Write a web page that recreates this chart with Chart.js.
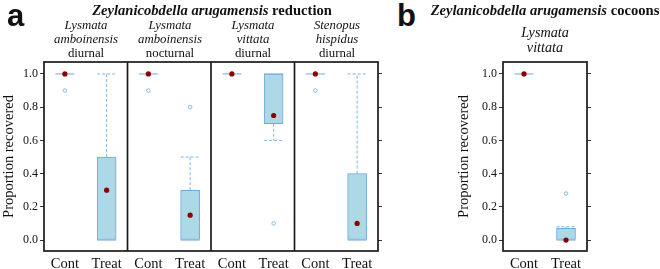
<!DOCTYPE html>
<html>
<head>
<meta charset="utf-8">
<script src="https://cdn.jsdelivr.net/npm/chart.js@4.4.1/dist/chart.umd.min.js"></script>
<style>
  body { margin: 0; background: #fff; }
  #wrap { position: relative; width: 660px; height: 269px; overflow: hidden; font-family: "Liberation Serif", serif; color: #111; }
  canvas { position: absolute; top: 0; }
  .tag { position: absolute; font-family: "Liberation Sans", Arial, sans-serif; font-weight: bold; font-size: 31px; line-height: 31px; }
  .title { position: absolute; font-weight: bold; font-size: 14.6px; line-height: 17px; text-align: center; white-space: nowrap; }
  .sub { position: absolute; font-size: 12.8px; line-height: 14px; text-align: center; width: 84px; }
  .sub i { display: block; }
  .subb { font-size: 14.2px; line-height: 15px; }
</style>
</head>
<body>
<div id="wrap">
  <canvas id="chartA" width="392" height="269" style="left:0"></canvas>
  <canvas id="chartB" width="150" height="269" style="left:455px"></canvas>

  <div class="tag" style="left:7px;top:0px">a</div>
  <div class="tag" style="left:397px;top:0px">b</div>
  <div class="title" style="left:62px;width:300px;top:2px"><i>Zeylanicobdella arugamensis</i> reduction</div>
  <div class="title" style="left:395px;width:300px;top:2px"><i>Zeylanicobdella arugamensis</i> cocoons</div>

  <div class="sub" style="left:44px;top:18px"><i>Lysmata</i><i>amboinensis</i>diurnal</div>
  <div class="sub" style="left:128px;top:18px"><i>Lysmata</i><i>amboinensis</i>nocturnal</div>
  <div class="sub" style="left:211px;top:18px"><i>Lysmata</i><i>vittata</i>diurnal</div>
  <div class="sub" style="left:295px;top:18px"><i>Stenopus</i><i>hispidus</i>diurnal</div>
  <div class="sub subb" style="left:503px;top:25px"><i>Lysmata</i><i>vittata</i></div>
</div>

<script>
// panel a: four trials, Cont / Treat each
const labelsA = ["Cont", "Treat", "Cont", "Treat", "Cont", "Treat", "Cont", "Treat"];
const q1A = [1, 0, 1, 0, 1, 0.7, 1, 0];
const q3A = [1, 0.5, 1, 0.3, 1, 1.0, 1, 0.4];
const medianA = [1, 0, 1, 0, 1, 1.0, 1, 0];
const whiskLoA = [1, 0, 1, 0, 1, 0.6, 1, 0];
const whiskHiA = [1, 1.0, 1, 0.5, 1, 1.0, 1, 1.0];
const meanA = [1, 0.3, 1, 0.15, 1, 0.75, 1, 0.1];
const outlierA = [0.9, null, 0.9, 0.8, null, 0.1, 0.9, null];

// panel b: cocoons
const labelsB = ["Cont", "Treat"];
const q1B = [1, 0];
const q3B = [1, 0.07];
const medianB = [1, 0];
const whiskLoB = [1, 0];
const whiskHiB = [1, 0.08];
const meanB = [1, 0];
const outlierB = [null, 0.28];

const yTicks = [0, 0.2, 0.4, 0.6, 0.8, 1.0];

const boxFill = "#add8e6";
const boxLine = "#6fa8dc";
const whiskColor = "#7fb3e6";
const BOXW = 19;

// whiskers, caps, medians and frame drawn from the scales
const boxExtras = {
  id: "boxExtras",
  beforeDatasetsDraw(chart, args, opts) {
    const ctx = chart.ctx;
    const x = chart.scales.x, y = chart.scales.y;
    ctx.save();
    ctx.lineWidth = 1;
    for (let i = 0; i < opts.q1.length; i++) {
      const cx = x.getPixelForValue(i);
      ctx.strokeStyle = whiskColor;
      ctx.setLineDash([3, 2]);
      const ends = [[opts.q3[i], opts.hi[i]], [opts.q1[i], opts.lo[i]]];
      ends.forEach(([from, to]) => {
        if (from === to) return;
        ctx.beginPath();
        ctx.moveTo(cx, y.getPixelForValue(from));
        ctx.lineTo(cx, y.getPixelForValue(to));
        ctx.moveTo(cx - BOXW / 2, y.getPixelForValue(to));
        ctx.lineTo(cx + BOXW / 2, y.getPixelForValue(to));
        ctx.stroke();
      });
      ctx.setLineDash([]);
      ctx.strokeStyle = boxLine;
      ctx.beginPath();
      ctx.moveTo(cx - BOXW / 2, y.getPixelForValue(opts.med[i]));
      ctx.lineTo(cx + BOXW / 2, y.getPixelForValue(opts.med[i]));
      ctx.stroke();
    }
    ctx.restore();
  },
  afterDraw(chart, args, opts) {
    const ctx = chart.ctx;
    const a = chart.chartArea;
    const x = chart.scales.x;
    ctx.save();
    ctx.strokeStyle = "#1a1a1a";
    ctx.lineWidth = 1.7;
    ctx.strokeRect(a.left, a.top, a.right - a.left, a.bottom - a.top);
    (opts.dividers || []).forEach(d => {
      const px = (x.getPixelForValue(d) + x.getPixelForValue(d + 1)) / 2;
      ctx.beginPath();
      ctx.moveTo(px, a.top);
      ctx.lineTo(px, a.bottom);
      ctx.stroke();
    });
    ctx.restore();
  }
};

function makeChart(id, labels, q1, q3, med, lo, hi, means, outliers, leftW, rightW, dividers) {
  const boxes = labels.map((l, i) => [q1[i], q3[i]]);
  return new Chart(document.getElementById(id), {
    type: "bar",
    data: {
      labels: labels,
      datasets: [
        {
          type: "line",
          data: outliers,
          showLine: false,
          pointRadius: 1.8,
          pointBorderWidth: 1,
          pointBackgroundColor: "#fff",
          pointBorderColor: "#8ab8e4",
          order: 1
        },
        {
          type: "line",
          data: means,
          showLine: false,
          pointRadius: 2.6,
          pointBorderWidth: 0,
          pointBackgroundColor: "#8b0000",
          order: 0
        },
        {
          data: boxes,
          backgroundColor: boxFill,
          borderColor: boxLine,
          borderWidth: 1,
          borderSkipped: false,
          barThickness: BOXW,
          order: 2
        }
      ]
    },
    options: {
      responsive: false,
      animation: false,
      devicePixelRatio: 1,
      layout: { padding: { top: 62, left: 0, right: 0, bottom: 0 } },
      plugins: {
        legend: { display: false },
        tooltip: { enabled: false },
        boxExtras: { q1: q1, q3: q3, med: med, lo: lo, hi: hi, dividers: dividers }
      },
      scales: {
        x: {
          grid: { display: false, drawTicks: false },
          border: { display: false },
          ticks: { color: "#111", padding: 4, font: { family: "Liberation Serif", size: 14.5 } },
          afterFit: s => { s.height = 18; }
        },
        y: {
          min: -0.066,
          max: 1.072,
          afterBuildTicks: s => { s.ticks = yTicks.map(v => ({ value: v })); },
          grid: { drawOnChartArea: false, tickLength: 4, color: "#333" },
          border: { display: false },
          ticks: {
            color: "#111",
            padding: 2,
            font: { family: "Liberation Serif", size: 12 },
            callback: v => v.toFixed(1)
          },
          title: {
            display: true,
            text: "Proportion recovered",
            color: "#111",
            padding: 0,
            font: { family: "Liberation Serif", size: 14.5 }
          },
          afterFit: s => { s.width = leftW; }
        },
        y2: {
          position: "right",
          min: -0.066,
          max: 1.072,
          afterBuildTicks: s => { s.ticks = yTicks.map(v => ({ value: v })); },
          grid: { drawOnChartArea: false, tickLength: 4, color: "#333" },
          border: { display: false },
          ticks: { display: false },
          afterFit: s => { s.width = rightW; }
        }
      }
    },
    plugins: [boxExtras]
  });
}

makeChart("chartA", labelsA, q1A, q3A, medianA, whiskLoA, whiskHiA, meanA, outlierA, 44, 14, [1, 3, 5]);
makeChart("chartB", labelsB, q1B, q3B, medianB, whiskLoB, whiskHiB, meanB, outlierB, 48, 18, []);
</script>
</body>
</html>
